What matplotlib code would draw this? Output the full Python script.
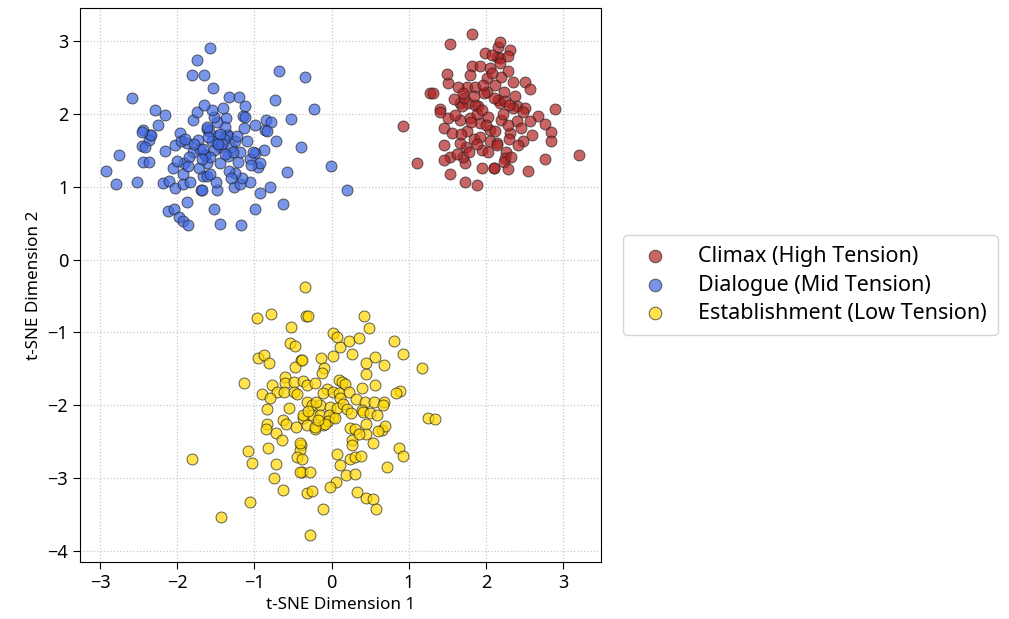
import numpy as np
import matplotlib.pyplot as plt

plt.rcParams['font.family'] = ['Noto Sans', 'DejaVu Sans']

# points, (x, y) per point
climax_pts = [
    (1.82, 3.09), (1.53, 2.95), (1.28, 2.29), (1.31, 2.29), (1.51, 2.42), (1.41, 2.06), (1.99, 2.83),
    (1.82, 2.65), (1.79, 2.53), (1.92, 2.65), (2.05, 2.63), (1.75, 2.37), (1.86, 2.37), (1.64, 2.37),
    (2.01, 2.49), (2.16, 2.92), (2.14, 2.78), (2.01, 2.30), (1.66, 2.15), (1.77, 2.15), (1.90, 2.10),
    (2.18, 2.98), (2.31, 2.88), (2.18, 2.76), (2.29, 2.79), (2.18, 2.70), (2.08, 2.81), (2.29, 2.58),
    (2.20, 2.51), (2.35, 2.43), (2.51, 2.43), (2.57, 2.34), (2.38, 2.25), (2.23, 2.30), (2.16, 2.19),
    (2.90, 2.06), (2.40, 2.10), (2.51, 2.08), (2.08, 2.56), (0.92, 1.83), (1.11, 1.32), (1.41, 2.03),
    (1.51, 1.94), (1.45, 1.80), (1.56, 1.74), (1.46, 1.57), (1.53, 1.41), (1.46, 1.36), (1.53, 1.17),
    (1.73, 1.06), (1.89, 1.02), (1.95, 1.26), (2.10, 1.26), (1.73, 1.32), (1.70, 1.41), (1.74, 1.55),
    (1.66, 1.60), (1.84, 1.66), (1.95, 1.50), (1.75, 1.76), (1.66, 1.92), (1.79, 1.94), (1.92, 1.87),
    (1.69, 2.10), (1.86, 2.12), (2.05, 1.78), (2.05, 1.62), (2.14, 1.60), (2.12, 1.76), (2.68, 1.97),
    (2.57, 1.90), (2.77, 1.86), (2.84, 1.75), (2.84, 1.62), (2.59, 1.71), (2.48, 1.62), (2.42, 1.57),
    (3.20, 1.44), (2.77, 1.38), (2.55, 1.22), (2.31, 1.73), (2.30, 1.65), (2.26, 1.48), (2.25, 1.39),
    (2.23, 1.34), (2.33, 1.41), (2.29, 1.24), (2.10, 1.25), (2.14, 1.57), (2.20, 1.92), (2.35, 2.08),
    (2.48, 2.02), (2.18, 2.15), (1.88, 2.00), (1.95, 2.05), (2.02, 1.95), (1.80, 1.88), (1.72, 2.22),
    (1.60, 1.98), (2.10, 2.22), (2.25, 2.18), (1.98, 2.28), (1.85, 2.25), (2.00, 1.85), (1.58, 2.20),
    (1.68, 1.72), (1.92, 1.68), (2.22, 2.00), (2.40, 1.90), (1.78, 1.48), (2.12, 2.40), (1.62, 1.45),
    (2.30, 2.12), (1.96, 2.40), (1.70, 2.28), (2.45, 1.80), (1.50, 2.55), (2.02, 1.48), (1.88, 1.58),
    (2.28, 1.85),
]

dialogue_pts = [
    (-1.74, 2.74), (-1.81, 2.53), (-1.65, 2.53), (-2.58, 2.22), (-2.29, 2.05), (-2.16, 1.98),
    (-2.45, 1.78), (-2.35, 1.71), (-1.58, 2.90), (-1.54, 2.36), (-0.68, 2.58), (-0.35, 2.50),
    (-1.33, 2.23), (-1.20, 2.23), (-1.12, 2.10), (-0.74, 2.19), (-0.23, 2.06), (-1.37, 1.94),
    (-1.15, 1.97), (-1.13, 1.81), (-0.99, 1.85), (-0.85, 1.91), (-0.78, 1.89), (-0.86, 1.78),
    (-0.53, 1.93), (-1.61, 1.79), (-1.34, 1.71), (-1.49, 1.69), (-2.76, 1.44), (-2.92, 1.22),
    (-2.80, 1.03), (-2.52, 1.06), (-2.46, 1.56), (-2.36, 1.64), (-2.34, 1.71), (-2.46, 1.75),
    (-2.45, 1.34), (-2.36, 1.34), (-2.16, 1.49), (-2.03, 1.57), (-2.18, 1.05), (-2.11, 1.08),
    (-2.03, 0.98), (-1.92, 1.03), (-1.83, 1.07), (-1.88, 0.79), (-2.12, 0.67), (-2.04, 0.69),
    (-1.98, 0.58), (-1.92, 0.53), (-1.86, 0.47), (-1.69, 0.96), (-2.05, 1.25), (-1.92, 1.18),
    (-1.91, 1.32), (-1.79, 1.48), (-1.64, 1.44), (-1.62, 1.32), (-1.88, 1.60), (-1.73, 1.64),
    (-1.66, 1.14), (-1.96, 1.73), (-0.40, 1.54), (-0.01, 1.28), (0.20, 0.95), (-0.58, 1.20),
    (-0.63, 0.76), (-0.99, 0.69), (-0.93, 0.91), (-0.80, 0.99), (-1.52, 0.69), (-1.44, 0.49),
    (-1.18, 0.47), (-1.06, 1.06), (-1.27, 0.99), (-1.19, 1.04), (-1.16, 1.12), (-1.49, 0.96),
    (-1.68, 0.96), (-1.25, 1.19), (-1.50, 1.07), (-1.62, 1.14), (-0.88, 1.50), (-0.99, 1.46),
    (-0.95, 1.27), (-0.93, 1.32), (-1.06, 1.38), (-1.21, 1.34), (-1.34, 1.42), (-1.19, 1.47),
    (-1.36, 1.71), (-1.49, 1.60), (-1.64, 1.44), (-1.44, 1.32), (-0.84, 1.76), (-1.59, 1.76),
    (-1.55, 1.62), (-1.45, 1.55), (-1.40, 1.65), (-1.70, 1.52), (-1.78, 1.58), (-1.30, 1.55),
    (-1.25, 1.62), (-1.52, 1.50), (-1.60, 1.68), (-1.42, 1.58), (-1.85, 1.40), (-1.10, 1.62),
    (-1.38, 1.82), (-1.48, 1.88), (-1.66, 1.52), (-1.95, 1.62), (-1.28, 1.48), (-1.57, 1.40),
    (-1.72, 1.25), (-1.05, 1.30), (-1.33, 1.22), (-1.62, 1.82), (-1.80, 1.92), (-1.45, 1.72),
    (-1.12, 1.95), (-2.00, 1.35), (-1.52, 1.95), (-1.38, 1.45), (-1.68, 1.38), (-1.22, 1.70),
    (-1.90, 1.65), (-1.55, 2.05), (-1.75, 2.02), (-1.41, 2.08), (-1.58, 1.18), (-1.86, 1.28),
    (-1.30, 1.12), (-1.47, 1.58), (-1.65, 2.12), (-2.25, 1.85), (-2.42, 1.55), (-1.02, 1.48),
    (-0.72, 1.62),
]

establish_pts = [
    (-0.34, -0.37), (-0.97, -0.80), (-0.78, -0.75), (-0.33, -0.78), (-0.52, -0.92), (-0.54, -1.14),
    (-0.48, -1.18), (-0.95, -1.35), (-0.87, -1.31), (-0.81, -1.42), (-0.40, -1.38), (-0.47, -1.47),
    (-1.14, -1.69), (-0.61, -1.61), (-0.60, -1.69), (-0.49, -1.68), (-0.77, -1.72), (-0.37, -1.67),
    (-0.32, -1.72), (-0.90, -1.84), (-0.71, -1.82), (-0.62, -1.82), (-0.49, -1.82), (-0.80, -1.90),
    (-0.84, -2.05), (-0.32, -1.95), (-0.31, -0.78), (0.42, -0.77), (0.48, -0.94), (0.02, -1.01),
    (0.07, -1.06), (0.11, -1.20), (0.22, -1.12), (0.35, -1.07), (0.81, -1.12), (0.93, -1.30),
    (1.17, -1.49), (0.27, -1.30), (0.56, -1.34), (0.68, -1.44), (0.45, -1.42), (0.45, -1.57),
    (0.56, -1.72), (0.39, -1.76), (0.02, -1.32), (-0.14, -1.35), (-0.39, -1.38), (-0.10, -1.49),
    (-0.13, -1.55), (0.09, -1.65), (0.13, -1.68), (0.17, -1.71), (-0.21, -1.70), (-0.06, -1.77),
    (-0.11, -1.83), (0.02, -1.82), (0.09, -1.83), (0.23, -1.82), (0.32, -1.91), (0.43, -1.95),
    (0.55, -1.95), (0.68, -1.96), (0.88, -1.80), (0.84, -1.83), (-0.26, -2.00), (-0.15, -2.00),
    (-0.02, -2.02), (0.11, -1.90), (0.39, -2.06), (-1.81, -2.74), (-1.08, -2.63), (-1.03, -2.79),
    (-1.43, -3.53), (-1.06, -3.32), (-0.84, -2.25), (-0.85, -2.33), (-0.72, -2.38), (-0.64, -2.47),
    (-0.82, -2.59), (-0.72, -2.81), (-0.75, -3.00), (-0.63, -3.16), (-0.55, -2.04), (-0.63, -2.20),
    (-0.59, -2.26), (-0.46, -2.30), (-0.37, -2.17), (-0.32, -2.27), (-0.40, -2.54), (-0.41, -2.61),
    (-0.45, -2.71), (-0.38, -2.92), (-0.32, -3.20), (-0.28, -3.78), (1.25, -2.17), (1.34, -2.19),
    (0.24, -2.31), (0.30, -2.32), (0.44, -2.26), (0.45, -2.40), (0.53, -2.51), (0.65, -2.34),
    (0.69, -2.28), (0.26, -2.48), (0.26, -2.54), (0.07, -2.67), (0.11, -2.82), (0.24, -2.73),
    (0.30, -2.71), (0.38, -2.69), (0.18, -2.95), (0.30, -2.94), (0.72, -2.85), (0.87, -2.59),
    (0.92, -2.70), (0.06, -3.05), (-0.02, -3.12), (-0.26, -3.18), (0.33, -3.19), (0.44, -3.27),
    (0.53, -3.29), (0.58, -3.42), (-0.11, -3.42), (-0.41, -2.91), (-0.28, -2.91), (-0.39, -2.73),
    (-0.41, -2.52), (-0.21, -2.32), (-0.11, -2.27), (0.02, -2.16), (-0.26, -2.13), (-0.37, -2.13),
    (0.41, -2.09), (0.50, -2.11), (0.59, -2.13), (0.67, -2.00), (-0.15, -2.13), (-0.04, -2.13),
    (0.07, -2.04), (-0.20, -1.95), (-0.05, -2.22), (0.15, -1.98), (-0.30, -2.08), (0.20, -2.05),
    (-0.08, -2.25), (0.35, -2.40), (-0.22, -2.30), (0.05, -2.18), (-0.45, -1.85), (0.60, -2.35),
    (-0.18, -2.20), (0.25, -2.10),
]

labels = ['Climax (High Tension)', 'Dialogue (Mid Tension)', 'Establishment (Low Tension)']
colors = ['#b22222', '#4169e1', '#ffd700']

fig = plt.figure(figsize=(10.09, 6.19), dpi=100)
ax = fig.add_axes([0.0793, 0.092, 0.5163, 0.895])

for pts, lab, c in zip([climax_pts, dialogue_pts, establish_pts], labels, colors):
    xs, ys = zip(*pts)
    ax.scatter(xs, ys, s=62, c=c, alpha=0.7, edgecolors='#222222', linewidths=0.7, label=lab, zorder=3)

ax.set_xlim(-3.26, 3.49)
ax.set_ylim(-4.15, 3.45)
ax.set_xticks(range(-3, 4))
ax.set_yticks(range(-4, 4))
ax.tick_params(labelsize=13, length=5)
ax.grid(True, linestyle=':', color='#c8c8c8', linewidth=0.9)
ax.set_xlabel('t-SNE Dimension 1', fontsize=12.3)
ax.set_ylabel('t-SNE Dimension 2', fontsize=12.3)

ax.legend(loc='center left', bbox_to_anchor=(1.042, 0.5), fontsize=15.5, frameon=True,
          borderaxespad=0, borderpad=0.5, handletextpad=1.0, labelspacing=0.35, markerscale=1.15)

plt.savefig('out.png', dpi=100)
